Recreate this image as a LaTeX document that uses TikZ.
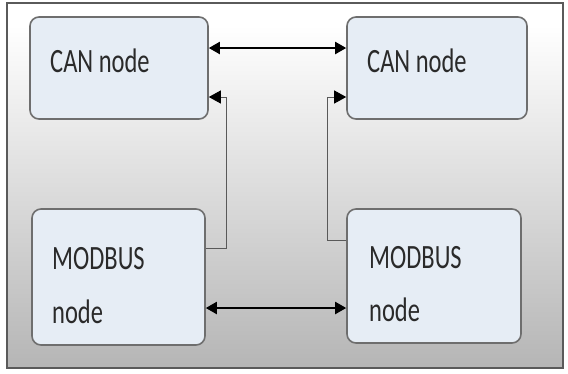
\documentclass[tikz,border=0pt]{standalone}
\usepackage{fontspec}
\setmainfont{Carlito}
\usetikzlibrary{arrows.meta}
\definecolor{boxfill}{HTML}{E6EDF5}
\definecolor{boxline}{HTML}{6E6E6E}
\definecolor{txt}{HTML}{2A2A2A}
\definecolor{frameline}{HTML}{5A5A5A}
\pgfdeclareverticalshading{bgshade}{100bp}{color(0bp)=(black!40); color(20bp)=(black!32); color(62bp)=(black!6); color(72bp)=(white); color(100bp)=(white)}
\tikzset{
  box/.style={draw=boxline, line width=1.6pt, fill=boxfill, rounded corners=9pt, inner sep=0pt},
  lbl/.style={anchor=base west, inner sep=0pt, text=txt, font=\fontsize{24.5}{30}\selectfont},
  bus/.style={line width=2pt, black, {Triangle[length=11pt,width=12pt]}-{Triangle[length=11pt,width=12pt]}},
  link/.style={line width=0.9pt, black!65, -{Triangle[length=12pt,width=13pt,color=black]}}
}
\newcommand{\tall}[1]{\scalebox{1}[1.39]{#1}}
\begin{document}
\begin{tikzpicture}[x=1pt,y=-1pt]
\useasboundingbox (0,0) rectangle (568,373);
\fill[white] (0,0) rectangle (568,373);
\shade[shading=bgshade] (7,3) rectangle (563,368);
\draw[frameline, line width=1.6pt] (7,3) rectangle (563,368);
% boxes
\node[box, minimum width=178pt, minimum height=102pt] (c1) at (119,68) {};
\node[box, minimum width=180pt, minimum height=102pt] (c2) at (437,68) {};
\node[box, minimum width=173pt, minimum height=136pt] (m1) at (118.5,277) {};
\node[box, minimum width=174pt, minimum height=134pt] (m2) at (434,276) {};
% labels
\node[lbl] (t1) at (50,72) {\tall{CAN node}};
\node[lbl] (t2) at (367,72) {\tall{CAN node}};
\node[lbl] (t3) at (52,269) {\tall{MODBUS}};
\node[lbl] (t4) at (52,323) {\tall{node}};
\node[lbl] (t5) at (369,268) {\tall{MODBUS}};
\node[lbl] (t6) at (369,321) {\tall{node}};
% connectors
\coordinate (b1) at ([yshift=20pt]c1.east);
\coordinate (b2) at ([yshift=-31pt]m1.east);
\draw[bus] (b1) -- (b1 -| c2.west);
\draw[bus] (b2) -- (b2 -| m2.west);
\coordinate (j1) at (226,248);
\coordinate (j2) at (327,240);
\draw[link] (m1.east |- j1) -- (j1) |- ([yshift=-29pt]c1.east);
\draw[link] (j2 -| m2.west) -- (j2) |- ([yshift=-29pt]c2.west);
\end{tikzpicture}
\end{document}
